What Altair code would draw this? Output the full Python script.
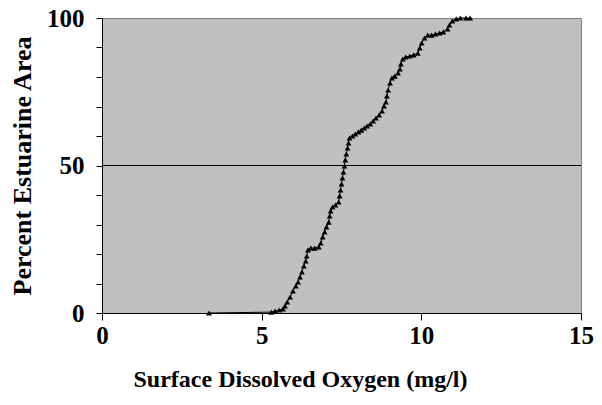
import altair as alt
import pandas as pd

oxygen = [3.35, 5.30, 5.42, 5.55, 5.67, 5.73, 5.80, 5.89, 5.98, 6.07, 6.14, 6.20, 6.26,
          6.32, 6.38, 6.41, 6.45, 6.54, 6.66, 6.79, 6.85, 6.91, 6.97, 7.03, 7.10, 7.13,
          7.16, 7.22, 7.31, 7.41, 7.44, 7.47, 7.50, 7.53, 7.56, 7.59, 7.62, 7.65, 7.69,
          7.72, 7.75, 7.84, 7.93, 8.03, 8.12, 8.21, 8.30, 8.40, 8.49, 8.58, 8.68, 8.77,
          8.83, 8.89, 8.92, 8.96, 9.02, 9.08, 9.17, 9.27, 9.33, 9.36, 9.42, 9.51, 9.64,
          9.76, 9.89, 9.95, 10.01, 10.10, 10.20, 10.32, 10.44, 10.57, 10.69, 10.82,
          10.88, 10.97, 11.09, 11.22, 11.40, 11.53]
percent = [0.0, 0.3, 0.7, 1.0, 1.4, 2.4, 3.7, 5.4, 7.5, 9.2, 10.5, 12.2, 13.9,
           15.9, 17.6, 19.3, 21.4, 22.0, 22.0, 22.4, 23.7, 25.8, 27.5, 29.2, 30.8, 32.9,
           34.6, 35.9, 36.6, 37.6, 39.7, 41.7, 43.7, 45.8, 47.8, 49.8, 51.9, 53.9, 55.9,
           57.6, 59.3, 60.0, 60.7, 61.4, 62.0, 62.7, 63.4, 64.1, 65.1, 66.1, 67.1, 68.5,
           70.2, 71.5, 73.6, 75.6, 78.0, 79.7, 80.3, 81.4, 82.7, 84.4, 86.1, 86.8, 87.1,
           87.5, 88.1, 89.8, 91.5, 93.2, 94.2, 94.2, 94.6, 94.9, 95.3, 96.3,
           97.6, 99.0, 99.7, 100.0, 100.0, 100.0]

x_ticks = [0, 5, 10, 15]
y_ticks = [0, 10, 20, 30, 40, 50, 60, 70, 80, 90, 100]
grid_at = [50]

df = pd.DataFrame({"oxygen": oxygen, "percent": percent})
grid_df = pd.DataFrame({"y": grid_at})

FONT = "Liberation Serif"

xscale = alt.Scale(domain=[0, 15], nice=False)
yscale = alt.Scale(domain=[0, 100], nice=False)

xaxis = alt.Axis(values=x_ticks, title="Surface Dissolved Oxygen (mg/l)", grid=False,
                 tickSize=7, labelPadding=3, titlePadding=19, labelFontSize=25,
                 labelFlush=False, titleFontSize=24, titleX=198, titleAnchor="middle",
                 domainColor="black", tickColor="black")
yaxis = alt.Axis(values=y_ticks, title="Percent Estuarine Area", grid=False,
                 labelExpr="datum.value % 50 == 0 ? datum.label : ''",
                 labelFlush=False,
                 tickSize=6, labelPadding=12, titlePadding=11, labelFontSize=25,
                 titleFontSize=26, domainColor="black", tickColor="black")

rule = alt.Chart(grid_df).mark_rule(color="black", strokeWidth=1).encode(
    y=alt.Y("y:Q", scale=yscale, axis=yaxis)
)

line = alt.Chart(df).mark_line(color="black", strokeWidth=1).encode(
    x=alt.X("oxygen:Q", scale=xscale, axis=xaxis),
    y=alt.Y("percent:Q", scale=yscale, axis=yaxis),
)

points = alt.Chart(df).mark_point(shape="triangle-up", filled=True, color="black",
                                  size=34, opacity=1).encode(
    x=alt.X("oxygen:Q", scale=xscale, axis=xaxis),
    y=alt.Y("percent:Q", scale=yscale, axis=yaxis),
)

chart = alt.layer(rule, line, points).properties(
    width=479, height=295,
    autosize=alt.AutoSizeParams(type="none"),
    padding={"left": 94, "top": 10, "right": 13, "bottom": 80},
    background="white",
).configure_view(
    fill="#C0C0C0", stroke="#808080", strokeWidth=1
).configure_axis(
    labelFont=FONT, titleFont=FONT, labelFontWeight="bold", titleFontWeight="bold",
    labelColor="black", titleColor="black"
)

chart.save("out.html", embed_options={"renderer": "svg", "actions": False})
